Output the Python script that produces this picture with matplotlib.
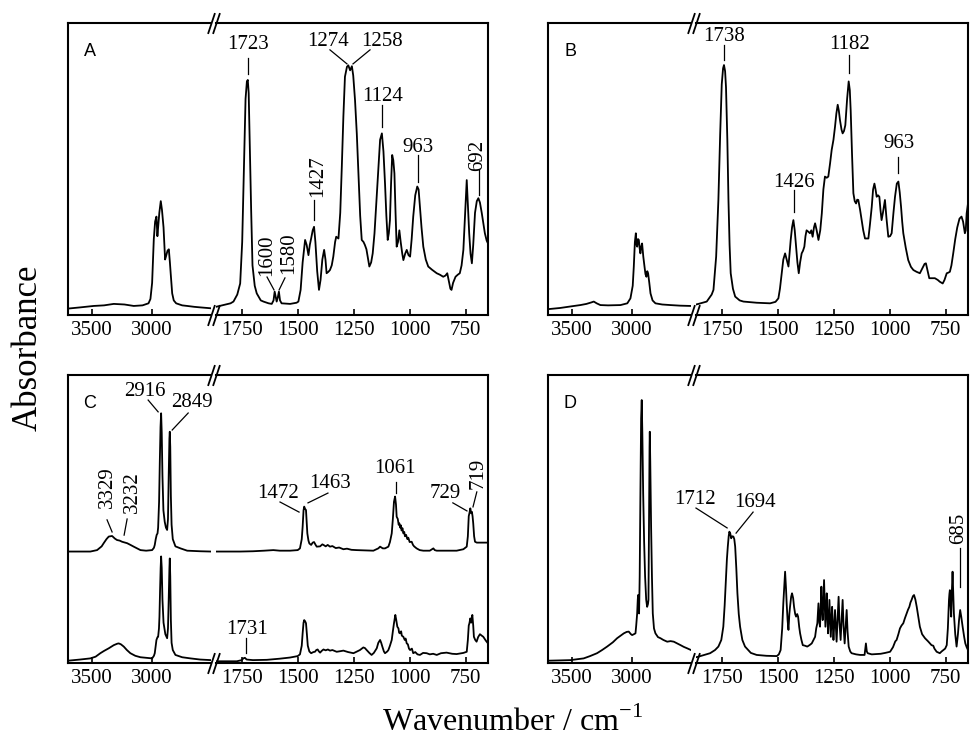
import matplotlib
matplotlib.use('Agg')
import matplotlib.pyplot as plt

# ---------------- data (wavenumber in cm-1, absorbance in relative units) -------------
left_ticks = [3500, 3000]
right_ticks = [1750, 1500, 1250, 1000, 750]

# Panel A
A_left_wn = [3700, 3600, 3486, 3400, 3319, 3230, 3153, 3080, 3030, 3014, 3000, 2986, 2975, 2964,
             2956, 2950, 2940, 2928, 2918, 2905, 2892, 2885, 2872, 2861, 2852, 2845, 2833, 2820,
             2800, 2750, 2708, 2650, 2597, 2510]
A_left_abs = [0.022, 0.026, 0.031, 0.033, 0.038, 0.036, 0.031, 0.033, 0.040, 0.055, 0.110, 0.260,
              0.320, 0.337, 0.270, 0.300, 0.350, 0.390, 0.360, 0.300, 0.190, 0.200, 0.220, 0.225,
              0.180, 0.140, 0.074, 0.050, 0.040, 0.033, 0.031, 0.028, 0.026, 0.023]
A_right_wn = [1865, 1854, 1800, 1787, 1770, 1757, 1748, 1740, 1733, 1727, 1723, 1719, 1714, 1708,
              1702, 1692, 1683, 1665, 1653, 1630, 1616, 1608, 1603, 1598, 1594, 1589, 1584, 1579,
              1572, 1534, 1505, 1497, 1487, 1478, 1467, 1460, 1452, 1446, 1440, 1433, 1427, 1421,
              1413, 1405, 1398, 1390, 1382, 1376, 1371, 1363, 1356, 1348, 1341, 1333, 1328, 1318,
              1310, 1303, 1296, 1289, 1280, 1274, 1266, 1258, 1252, 1244, 1236, 1229, 1221, 1214,
              1206, 1200, 1193, 1185, 1180, 1172, 1165, 1157, 1148, 1140, 1132, 1124, 1117, 1110,
              1104, 1098, 1093, 1088, 1083, 1078, 1073, 1068, 1063, 1058, 1052, 1046, 1040, 1033,
              1028, 1020, 1013, 1005, 998, 991, 984, 975, 966, 960, 954, 947, 939, 928, 917, 900,
              879, 865, 850, 840, 832, 826, 818, 813, 806, 795, 785, 776, 768, 760, 752, 745, 740,
              734, 728, 722, 716, 708, 700, 693, 686, 678, 670, 664, 656, 650]
A_right_abs = [0.028, 0.030, 0.040, 0.046, 0.070, 0.108, 0.250, 0.520, 0.740, 0.800, 0.805, 0.760,
               0.580, 0.360, 0.170, 0.100, 0.074, 0.050, 0.046, 0.040, 0.038, 0.050, 0.080, 0.060,
               0.046, 0.060, 0.080, 0.050, 0.040, 0.038, 0.042, 0.046, 0.086, 0.180, 0.257, 0.240,
               0.205, 0.240, 0.262, 0.290, 0.302, 0.250, 0.150, 0.086, 0.120, 0.190, 0.223, 0.190,
               0.143, 0.148, 0.154, 0.170, 0.200, 0.250, 0.268, 0.262, 0.350, 0.508, 0.680, 0.816,
               0.850, 0.855, 0.838, 0.852, 0.820, 0.736, 0.620, 0.485, 0.340, 0.257, 0.250, 0.240,
               0.225, 0.190, 0.166, 0.180, 0.211, 0.280, 0.394, 0.500, 0.600, 0.622, 0.560, 0.450,
               0.340, 0.257, 0.280, 0.325, 0.450, 0.548, 0.530, 0.485, 0.350, 0.234, 0.250, 0.290,
               0.250, 0.210, 0.188, 0.210, 0.223, 0.205, 0.200, 0.260, 0.337, 0.410, 0.440, 0.430,
               0.370, 0.300, 0.234, 0.190, 0.166, 0.155, 0.143, 0.138, 0.131, 0.135, 0.143, 0.120,
               0.090, 0.086, 0.110, 0.131, 0.138, 0.143, 0.170, 0.223, 0.350, 0.462, 0.380, 0.280,
               0.210, 0.177, 0.240, 0.350, 0.390, 0.400, 0.385, 0.350, 0.310, 0.280, 0.255, 0.245]

# Panel B
B_left_wn = [3700, 3600, 3500, 3431, 3380, 3340, 3319, 3295, 3264, 3200, 3097, 3040, 3014, 2995,
             2986, 2977, 2969, 2963, 2958, 2951, 2944, 2938, 2931, 2924, 2917, 2907, 2897, 2889,
             2881, 2874, 2867, 2857, 2847, 2830, 2806, 2750, 2681, 2600, 2514]
B_left_abs = [0.020, 0.024, 0.030, 0.034, 0.038, 0.043, 0.046, 0.040, 0.034, 0.033, 0.034, 0.040,
              0.057, 0.100, 0.166, 0.250, 0.280, 0.240, 0.234, 0.260, 0.257, 0.230, 0.211, 0.235,
              0.245, 0.200, 0.166, 0.140, 0.131, 0.150, 0.143, 0.110, 0.074, 0.050, 0.040, 0.036,
              0.034, 0.032, 0.031]
B_right_wn = [1865, 1854, 1817, 1795, 1787, 1775, 1765, 1757, 1750, 1744, 1740, 1735, 1731, 1725,
              1720, 1715, 1710, 1700, 1690, 1670, 1653, 1594, 1534, 1510, 1497, 1490, 1482, 1475,
              1467, 1460, 1452, 1447, 1442, 1436, 1430, 1424, 1418, 1412, 1406, 1400, 1393, 1387,
              1381, 1376, 1371, 1363, 1356, 1350, 1344, 1338, 1333, 1326, 1318, 1310, 1303, 1296,
              1289, 1281, 1274, 1266, 1259, 1251, 1244, 1238, 1232, 1227, 1222, 1215, 1210, 1204,
              1198, 1190, 1183, 1178, 1174, 1168, 1162, 1156, 1150, 1145, 1140, 1132, 1125, 1118,
              1110, 1095, 1088, 1080, 1074, 1068, 1063, 1058, 1052, 1046, 1041, 1036, 1030, 1021,
              1014, 1006, 998, 991, 983, 976, 968, 961, 955, 949, 944, 939, 928, 917, 905, 894,
              880, 865, 857, 850, 844, 838, 830, 823, 810, 798, 785, 776, 763, 755, 745, 738, 731,
              724, 716, 707, 698, 688, 679, 672, 664, 660, 656, 652, 650]
B_right_abs = [0.036, 0.038, 0.046, 0.070, 0.086, 0.200, 0.394, 0.620, 0.790, 0.845, 0.856, 0.835,
               0.780, 0.600, 0.394, 0.240, 0.143, 0.090, 0.063, 0.050, 0.046, 0.042, 0.040, 0.045,
               0.057, 0.090, 0.143, 0.190, 0.211, 0.190, 0.166, 0.210, 0.257, 0.300, 0.325, 0.290,
               0.234, 0.180, 0.143, 0.180, 0.211, 0.220, 0.234, 0.270, 0.290, 0.285, 0.280, 0.290,
               0.268, 0.300, 0.314, 0.290, 0.257, 0.290, 0.348, 0.430, 0.474, 0.470, 0.474, 0.520,
               0.565, 0.600, 0.645, 0.690, 0.720, 0.700, 0.668, 0.635, 0.622, 0.630, 0.650, 0.740,
               0.800, 0.770, 0.700, 0.550, 0.417, 0.390, 0.382, 0.395, 0.394, 0.360, 0.325, 0.290,
               0.262, 0.262, 0.310, 0.370, 0.430, 0.450, 0.430, 0.405, 0.410, 0.405, 0.360, 0.325,
               0.350, 0.394, 0.330, 0.268, 0.270, 0.280, 0.350, 0.405, 0.450, 0.457, 0.420, 0.370,
               0.320, 0.280, 0.230, 0.188, 0.165, 0.154, 0.148, 0.143, 0.155, 0.166, 0.175, 0.177,
               0.150, 0.126, 0.126, 0.126, 0.120, 0.114, 0.108, 0.120, 0.143, 0.145, 0.148, 0.170,
               0.211, 0.260, 0.300, 0.330, 0.337, 0.320, 0.280, 0.290, 0.348, 0.370, 0.382]

# Panel C (upper trace and lower trace)
C_up_left_wn = [3700, 3600, 3514, 3458, 3420, 3403, 3380, 3361, 3333, 3310, 3292, 3270, 3250, 3208,
                3180, 3153, 3097, 3050, 3000, 2985, 2978, 2970, 2962, 2955, 2950, 2942, 2936, 2930,
                2925, 2920, 2914, 2906, 2895, 2885, 2875, 2868, 2862, 2856, 2853, 2849, 2844, 2838,
                2828, 2806, 2764, 2708, 2600, 2510]
C_up_left_abs = [0.387, 0.387, 0.387, 0.392, 0.405, 0.416, 0.430, 0.439, 0.441, 0.432, 0.427, 0.425,
                 0.421, 0.416, 0.410, 0.404, 0.392, 0.390, 0.392, 0.400, 0.410, 0.430, 0.445, 0.450,
                 0.470, 0.560, 0.700, 0.820, 0.867, 0.800, 0.650, 0.530, 0.490, 0.470, 0.462, 0.500,
                 0.650, 0.780, 0.803, 0.750, 0.580, 0.480, 0.430, 0.405, 0.398, 0.390, 0.388, 0.387]
C_up_right_wn = [1865, 1757, 1700, 1650, 1609, 1580, 1534, 1500, 1490, 1482, 1478, 1474, 1471, 1467,
                 1463, 1460, 1457, 1452, 1448, 1440, 1433, 1427, 1420, 1415, 1400, 1390, 1385, 1375,
                 1366, 1356, 1345, 1330, 1315, 1296, 1280, 1260, 1237, 1200, 1162, 1140, 1132, 1120,
                 1110, 1100, 1095, 1088, 1080, 1075, 1070, 1065, 1061, 1058, 1053, 1049, 1046, 1042,
                 1039, 1036, 1032, 1028, 1024, 1021, 1016, 1010, 1006, 1000, 991, 985, 980, 969, 955,
                 939, 910, 900, 894, 888, 879, 820, 790, 760, 745, 740, 736, 733, 729, 725, 722, 719,
                 716, 712, 708, 700, 686, 650]
C_up_right_abs = [0.387, 0.387, 0.388, 0.390, 0.392, 0.390, 0.390, 0.392, 0.398, 0.430, 0.473, 0.530,
                  0.543, 0.535, 0.531, 0.490, 0.450, 0.425, 0.415, 0.410, 0.418, 0.420, 0.410, 0.404,
                  0.405, 0.412, 0.410, 0.405, 0.410, 0.404, 0.406, 0.399, 0.401, 0.395, 0.397, 0.393,
                  0.392, 0.391, 0.390, 0.398, 0.404, 0.398, 0.398, 0.402, 0.404, 0.420, 0.450, 0.500,
                  0.560, 0.578, 0.550, 0.508, 0.500, 0.480, 0.485, 0.470, 0.478, 0.460, 0.468, 0.450,
                  0.455, 0.440, 0.445, 0.430, 0.435, 0.420, 0.421, 0.410, 0.405, 0.398, 0.392, 0.390,
                  0.390, 0.395, 0.398, 0.392, 0.390, 0.390, 0.390, 0.395, 0.404, 0.440, 0.510, 0.520,
                  0.537, 0.520, 0.525, 0.510, 0.485, 0.440, 0.421, 0.418, 0.418, 0.418]
C_low_left_wn = [3700, 3600, 3514, 3470, 3431, 3400, 3361, 3319, 3290, 3278, 3260, 3236, 3210, 3181,
                 3140, 3097, 3000, 2985, 2978, 2970, 2964, 2955, 2950, 2943, 2939, 2934, 2929, 2925,
                 2920, 2914, 2905, 2890, 2875, 2868, 2862, 2856, 2853, 2849, 2844, 2838, 2828, 2806,
                 2750, 2681, 2600, 2510]
C_low_left_abs = [0.008, 0.012, 0.016, 0.022, 0.034, 0.042, 0.051, 0.062, 0.067, 0.068, 0.065, 0.057,
                  0.045, 0.034, 0.025, 0.020, 0.016, 0.025, 0.034, 0.060, 0.080, 0.090, 0.091, 0.120,
                  0.160, 0.250, 0.330, 0.370, 0.330, 0.220, 0.140, 0.100, 0.086, 0.120, 0.220, 0.330,
                  0.363, 0.300, 0.150, 0.070, 0.045, 0.028, 0.020, 0.016, 0.012, 0.010]
C_low_right_wn = [1865, 1772, 1750, 1743, 1736, 1728, 1700, 1638, 1580, 1534, 1500, 1490, 1482, 1478,
                  1474, 1471, 1467, 1463, 1459, 1455, 1448, 1440, 1430, 1423, 1417, 1411, 1405, 1400,
                  1393, 1385, 1375, 1365, 1356, 1345, 1326, 1310, 1296, 1275, 1251, 1235, 1222, 1207,
                  1200, 1192, 1180, 1170, 1160, 1147, 1140, 1132, 1127, 1122, 1115, 1110, 1100, 1095,
                  1088, 1080, 1075, 1070, 1064, 1060, 1055, 1050, 1047, 1043, 1038, 1035, 1028, 1022,
                  1018, 1013, 1008, 1003, 998, 990, 984, 975, 965, 954, 940, 924, 910, 895, 879, 860,
                  835, 810, 790, 760, 745, 740, 736, 733, 729, 725, 720, 716, 713, 707, 701, 694, 686,
                  678, 671, 660, 650]
C_low_right_abs = [0.006, 0.006, 0.010, 0.016, 0.018, 0.012, 0.010, 0.011, 0.015, 0.019, 0.024, 0.030,
                   0.060, 0.103, 0.140, 0.149, 0.145, 0.138, 0.100, 0.060, 0.040, 0.034, 0.038, 0.039,
                   0.045, 0.047, 0.040, 0.036, 0.042, 0.047, 0.044, 0.047, 0.043, 0.045, 0.039, 0.041,
                   0.043, 0.038, 0.034, 0.040, 0.045, 0.054, 0.052, 0.045, 0.035, 0.028, 0.035, 0.051,
                   0.070, 0.080, 0.070, 0.057, 0.040, 0.034, 0.040, 0.045, 0.060, 0.080, 0.110, 0.138,
                   0.167, 0.150, 0.126, 0.120, 0.105, 0.103, 0.110, 0.095, 0.091, 0.080, 0.085, 0.068,
                   0.065, 0.050, 0.045, 0.050, 0.034, 0.038, 0.030, 0.028, 0.035, 0.034, 0.030, 0.032,
                   0.028, 0.034, 0.036, 0.032, 0.031, 0.035, 0.039, 0.080, 0.130, 0.138, 0.155, 0.140,
                   0.167, 0.130, 0.091, 0.080, 0.074, 0.090, 0.100, 0.095, 0.091, 0.078, 0.068]

# Panel D
D_left_wn = [3700, 3600, 3514, 3403, 3350, 3292, 3250, 3208, 3160, 3125, 3069, 3045, 3028, 3010,
             3000, 2985, 2972, 2966, 2958, 2953, 2950, 2946, 2942, 2937, 2931, 2925, 2920, 2915,
             2908, 2900, 2892, 2883, 2875, 2868, 2864, 2860, 2855, 2853, 2849, 2842, 2835, 2828,
             2818, 2806, 2785, 2764, 2740, 2708, 2680, 2653, 2625, 2597, 2570, 2542, 2510]
D_left_abs = [0.008, 0.009, 0.010, 0.016, 0.024, 0.034, 0.045, 0.057, 0.072, 0.086, 0.103, 0.108,
              0.109, 0.100, 0.097, 0.100, 0.103, 0.130, 0.172, 0.220, 0.236, 0.200, 0.172, 0.300,
              0.589, 0.850, 0.913, 0.800, 0.589, 0.420, 0.300, 0.220, 0.195, 0.205, 0.219, 0.450,
              0.750, 0.803, 0.700, 0.473, 0.300, 0.172, 0.120, 0.103, 0.090, 0.086, 0.080, 0.074,
              0.076, 0.074, 0.068, 0.062, 0.056, 0.051, 0.045]
D_right_wn = [1865, 1854, 1820, 1802, 1780, 1765, 1752, 1743, 1737, 1731, 1727, 1723, 1719, 1716,
              1712, 1708, 1703, 1698, 1694, 1690, 1685, 1680, 1674, 1668, 1658, 1646, 1620, 1594,
              1550, 1504, 1495, 1487, 1480, 1475, 1470, 1467, 1463, 1460, 1456, 1452, 1448, 1445,
              1440, 1436, 1431, 1427, 1422, 1418, 1413, 1409, 1404, 1400, 1394, 1388, 1378, 1368,
              1358, 1348, 1340, 1333, 1328, 1323, 1318, 1314, 1311, 1305, 1302, 1299, 1293, 1290,
              1287, 1281, 1278, 1275, 1269, 1266, 1263, 1257, 1254, 1251, 1244, 1240, 1237, 1228,
              1224, 1219, 1210, 1206, 1201, 1192, 1188, 1183, 1176, 1170, 1150, 1132, 1112, 1106,
              1102, 1098, 1080, 1058, 1040, 1020, 998, 985, 975, 969, 961, 954, 947, 939, 932, 924,
              918, 912, 907, 902, 896, 891, 885, 879, 872, 865, 855, 842, 828, 813, 805, 800, 790,
              776, 768, 760, 752, 745, 740, 735, 733, 731, 728, 725, 722, 719, 716, 713, 707, 701,
              695, 690, 685, 680, 674, 667, 662, 656, 650]
D_right_abs = [0.020, 0.022, 0.030, 0.034, 0.045, 0.057, 0.080, 0.126, 0.200, 0.300, 0.360, 0.404,
               0.440, 0.456, 0.450, 0.433, 0.440, 0.439, 0.430, 0.404, 0.330, 0.242, 0.170, 0.126,
               0.080, 0.057, 0.035, 0.028, 0.025, 0.024, 0.030, 0.045, 0.120, 0.207, 0.280, 0.317,
               0.260, 0.207, 0.150, 0.115, 0.170, 0.195, 0.230, 0.242, 0.225, 0.195, 0.170, 0.161,
               0.170, 0.161, 0.125, 0.103, 0.080, 0.062, 0.060, 0.057, 0.062, 0.068, 0.080, 0.091,
               0.120, 0.138, 0.207, 0.140, 0.126, 0.265, 0.180, 0.149, 0.288, 0.200, 0.126, 0.242,
               0.160, 0.103, 0.219, 0.150, 0.091, 0.195, 0.130, 0.080, 0.184, 0.120, 0.074, 0.230,
               0.140, 0.080, 0.219, 0.130, 0.068, 0.184, 0.110, 0.057, 0.040, 0.034, 0.030, 0.028,
               0.028, 0.068, 0.040, 0.034, 0.030, 0.031, 0.032, 0.035, 0.039, 0.055, 0.075, 0.080,
               0.100, 0.120, 0.130, 0.138, 0.155, 0.172, 0.185, 0.195, 0.210, 0.219, 0.232, 0.236,
               0.220, 0.195, 0.160, 0.126, 0.100, 0.086, 0.075, 0.062, 0.060, 0.050, 0.039, 0.034,
               0.040, 0.045, 0.050, 0.062, 0.120, 0.219, 0.240, 0.253, 0.200, 0.161, 0.250, 0.317,
               0.240, 0.172, 0.100, 0.057, 0.100, 0.149, 0.184, 0.160, 0.126, 0.090, 0.068, 0.055,
               0.045]

# peak annotations: (segment, label, text_wn, text_abs, rotation, x1, y1, x2, y2)
A_notes = [('R', '1723', 1723, 0.925, 0, 1723, 0.880, 1723, 0.825),
           ('R', '1274', 1365, 0.935, 0, 1356, 0.908, 1280, 0.860),
           ('R', '1258', 1124, 0.935, 0, 1177, 0.908, 1253, 0.860),
           ('R', '1124', 1120, 0.747, 0, 1124, 0.719, 1124, 0.645),
           ('R', '963', 963, 0.572, 0, 963, 0.548, 963, 0.455),
           ('R', '692', 695, 0.548, 90, 692, 0.497, 692, 0.411),
           ('R', '1427', 1413, 0.476, 90, 1427, 0.394, 1427, 0.325),
           ('R', '1600', 1637, 0.205, 90, 1637, 0.130, 1606, 0.086),
           ('R', '1580', 1539, 0.212, 90, 1557, 0.127, 1583, 0.086)]
B_notes = [('R', '1738', 1740, 0.955, 0, 1738, 0.925, 1738, 0.873),
           ('R', '1182', 1177, 0.925, 0, 1182, 0.890, 1182, 0.829),
           ('R', '963', 958, 0.589, 0, 963, 0.541, 963, 0.486),
           ('R', '1426', 1427, 0.455, 0, 1426, 0.428, 1426, 0.353)]
C_notes = [('L', '2916', 3058, 0.941, 0, 3033, 0.913, 2950, 0.872),
           ('L', '2849', 2667, 0.903, 0, 2700, 0.868, 2833, 0.809),
           ('L', '3329', 3375, 0.611, 90, 3375, 0.497, 3333, 0.455),
           ('L', '3232', 3167, 0.594, 90, 3208, 0.500, 3233, 0.444),
           ('R', '1472', 1588, 0.590, 0, 1579, 0.559, 1494, 0.524),
           ('R', '1463', 1356, 0.622, 0, 1365, 0.590, 1454, 0.556),
           ('R', '1061', 1066, 0.677, 0, 1061, 0.628, 1061, 0.590),
           ('R', '729', 843, 0.590, 0, 807, 0.556, 744, 0.528),
           ('R', '719', 695, 0.660, 90, 700, 0.594, 717, 0.542),
           ('R', '1731', 1726, 0.115, 0, 1731, 0.087, 1731, 0.035)]
D_notes = [('R', '1712', 1869, 0.566, 0, 1865, 0.538, 1726, 0.469),
           ('R', '1694', 1601, 0.556, 0, 1610, 0.524, 1686, 0.451),
           ('R', '685', 690, 0.469, 90, 686, 0.399, 686, 0.264)]

# ---------------- styling / layout -----------------
plt.rcParams['font.family'] = ['Liberation Serif', 'DejaVu Serif']
plt.rcParams['mathtext.fontset'] = 'custom'
plt.rcParams['mathtext.rm'] = 'Liberation Serif'

W, H = 975, 747
fig = plt.figure(figsize=(W / 100, H / 100), dpi=100)

LEFT_LIM = (3700, 2510)
RIGHT_LIM = (1865, 650)


def rect(x0, x1, ytop, ybot):
    return [x0 / W, 1 - ybot / H, (x1 - x0) / W, (ybot - ytop) / H]


def make_panel(x0, ytop, ybot, letter):
    axL = fig.add_axes(rect(x0, x0 + 143, ytop, ybot))
    axR = fig.add_axes(rect(x0 + 148, x0 + 420, ytop, ybot))
    axL.set_xlim(*LEFT_LIM)
    axR.set_xlim(*RIGHT_LIM)
    axL.set_xticks(left_ticks)
    axR.set_xticks(right_ticks)
    for ax in (axL, axR):
        ax.set_ylim(0, 1)
        ax.set_yticks([])
        for s in ax.spines.values():
            s.set_linewidth(1.5)
        ax.tick_params(axis='x', direction='in', length=4, width=1.2, labelsize=15, pad=4)
    axL.spines['right'].set_visible(False)
    axR.spines['left'].set_visible(False)
    kw = dict(marker=[(-1, -3), (1, 3)], markersize=15, linestyle='none', color='k',
              mec='k', mew=1.3, clip_on=False)
    axL.plot([1, 1], [0, 1], transform=axL.transAxes, **kw)
    axR.plot([0, 0], [0, 1], transform=axR.transAxes, **kw)
    axL.text(22 / 143, 1 - 29 / (ybot - ytop), letter, transform=axL.transAxes,
             family=['Liberation Sans', 'DejaVu Sans'], fontsize=13, ha='center', va='center')
    return axL, axR


def annotate(axL, axR, notes):
    for seg, lab, tx, ty, rot, x1, y1, x2, y2 in notes:
        ax = axL if seg == 'L' else axR
        ax.plot([x1, x2], [y1, y2], color='k', lw=0.9, clip_on=False)
        ax.text(tx, ty, lab, ha='center', va='center', rotation=rot, fontsize=15, clip_on=False)


LW = 1.3
# Panel A
aL, aR = make_panel(68, 23, 315, 'A')
aL.plot(A_left_wn, A_left_abs, color='k', lw=LW)
aR.plot(A_right_wn, A_right_abs, color='k', lw=LW)
annotate(aL, aR, A_notes)
# Panel B
bL, bR = make_panel(548, 23, 315, 'B')
bL.plot(B_left_wn, B_left_abs, color='k', lw=LW)
bR.plot(B_right_wn, B_right_abs, color='k', lw=LW)
annotate(bL, bR, B_notes)
# Panel C
cL, cR = make_panel(68, 375, 663, 'C')
cL.plot(C_up_left_wn, C_up_left_abs, color='k', lw=LW)
cR.plot(C_up_right_wn, C_up_right_abs, color='k', lw=LW)
cL.plot(C_low_left_wn, C_low_left_abs, color='k', lw=LW)
cR.plot(C_low_right_wn, C_low_right_abs, color='k', lw=LW)
annotate(cL, cR, C_notes)
# Panel D
dL, dR = make_panel(548, 375, 663, 'D')
dL.plot(D_left_wn, D_left_abs, color='k', lw=LW)
dR.plot(D_right_wn, D_right_abs, color='k', lw=LW)
annotate(dL, dR, D_notes)

fig.text(513 / W, 1 - 722 / H, 'Wavenumber / cm$^{\\mathregular{-1}}$', ha='center', va='center',
         fontsize=23)
fig.text(28 / W, 1 - 348 / H, 'Absorbance', rotation=90, ha='center', va='center', fontsize=25)

fig.savefig('out.png', dpi=100)
